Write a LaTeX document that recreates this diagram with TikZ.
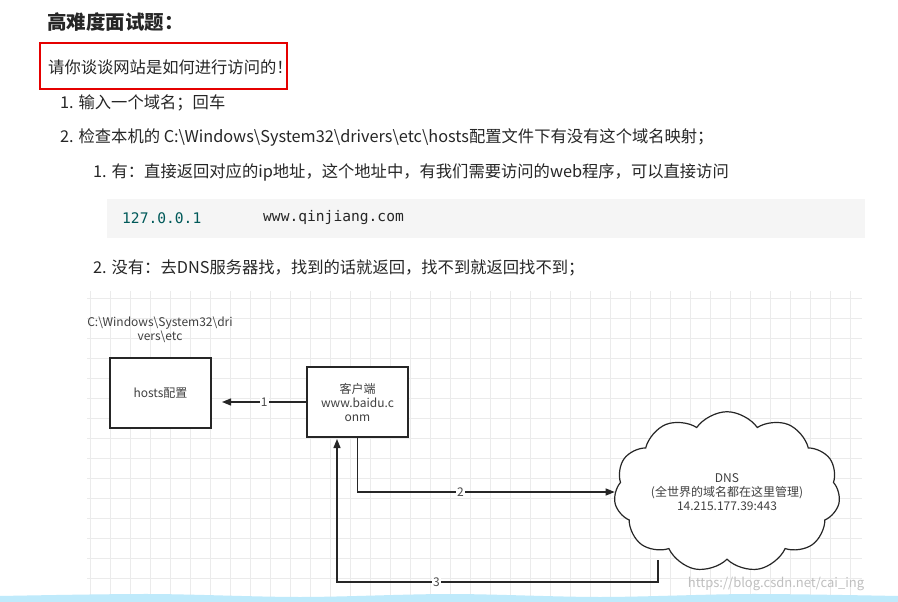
\documentclass[tikz,border=0pt]{standalone}
\usepackage{fontspec}
\setmainfont{Noto Sans CJK SC}
\newfontfamily\codefont{DejaVu Sans Mono}
\usetikzlibrary{shapes.symbols,arrows.meta}
\begin{document}
\begin{tikzpicture}[x=1pt,y=-1pt,
  txt/.style={anchor=west,inner sep=0pt,font=\fontsize{16.3}{18}\selectfont,text=black!85},
  box/.style={draw=black!85,line width=1.2pt,fill=white,align=center,font=\fontsize{12}{14}\selectfont,text=black!75},
  conn/.style={draw=black!85,line width=1.2pt},
  arr/.style={conn,-{Triangle[length=9pt,width=7pt]}},
  num/.style={fill=white,inner sep=1pt,font=\fontsize{12}{13}\selectfont,text=black!70}]
\useasboundingbox (0,0) rectangle (898,602);
\fill[white] (0,0) rectangle (898,602);
% text
\node[txt,font=\fontsize{19.5}{21}\selectfont\bfseries] (title) at (47,22) {高难度面试题：};
\draw[red!90!black,line width=2.2pt] (40,43) rectangle (287,89);
\node[txt] (q) at (48,67) {请你谈谈网站是如何进行访问的！};
\node[txt] (s1) at (60,103) {1. 输入一个域名；回车};
\node[txt] (s2) at (60,138) {2. 检查本机的 C:\textbackslash Windows\textbackslash System32\textbackslash drivers\textbackslash etc\textbackslash hosts配置文件下有没有这个域名映射；};
\node[txt] (s21) at (93,172) {1. 有：直接返回对应的ip地址，这个地址中，有我们需要访问的web程序，可以直接访问};
\fill[black!4] (107,199) rectangle (865,238);
\node[txt,font=\codefont\fontsize{14.6}{16}\selectfont,text=teal!70!black] (ip) at (122,218) {127.0.0.1};
\node[txt,font=\codefont\fontsize{14.6}{16}\selectfont] (dom) at (263,218) {www.qinjiang.com};
\node[txt] (s22) at (93,268) {2. 没有：去DNS服务器找，找到的话就返回，找不到就返回找不到；};
% grid
\foreach \gx in {90,110,...,850} \draw[black!8,line width=0.5pt] (\gx,291) -- (\gx,602);
\foreach \gy in {298,318,...,598} \draw[black!8,line width=0.5pt] (87,\gy) -- (862,\gy);
% diagram
\node[font=\fontsize{12}{14}\selectfont,text=black!75,align=center] (path) at (160,330) {C:\textbackslash Windows\textbackslash System32\textbackslash dri\\vers\textbackslash etc};
\node[box,minimum width=101,minimum height=70] (hosts) at (160.5,393) {hosts配置};
\node[box,minimum width=101,minimum height=70] (client) at (357.5,402) {客户端\\www.baidu.c\\onm};
\node[cloud,cloud puffs=11,cloud puff arc=110,aspect=1.6,draw=black!85,line width=1.2pt,fill=white,minimum width=226,minimum height=138,align=center,font=\fontsize{12}{14}\selectfont,text=black!75,inner sep=0pt] (dns) at (727,492) {DNS\\(全世界的域名都在这里管理)\\14.215.177.39:443};
\coordinate (h1) at (222,402);
\draw[arr] (client.west) -- node[num]{1} (h1);
\draw[arr] (client.south) |- node[num,pos=0.7]{2} (dns.west);
\coordinate (c3) at (658,560);
\coordinate (c3b) at (658,582);
\coordinate (c3c) at (337,582);
\draw[arr] (c3) -- (c3b) -- node[num,pos=0.69]{3} (c3c) -- (337,439);
\node[font=\fontsize{13}{15}\selectfont,text=black!25,inner sep=0] (wm) at (776,584) {https://blog.csdn.net/cai\_ing};
\fill[cyan!25] (0,596) -- plot[smooth] coordinates {(0,596)(150,594)(300,597)(450,594)(600,597)(750,594)(898,596)} -- (898,602) -- (0,602) -- cycle;
\end{tikzpicture}
\end{document}
